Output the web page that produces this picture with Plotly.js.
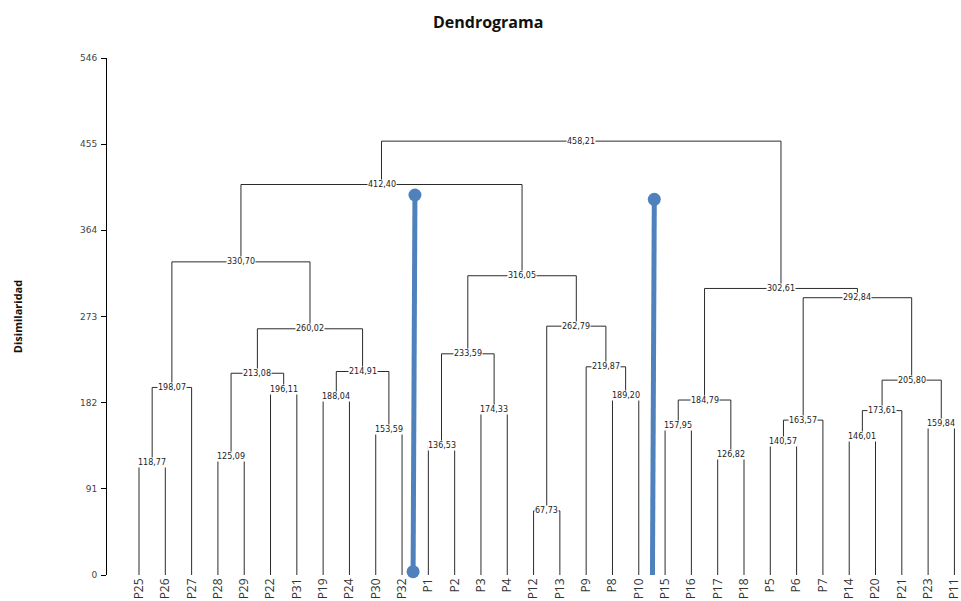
<!DOCTYPE html>
<html>
<head>
<meta charset="utf-8">
<script src="https://cdn.plot.ly/plotly-3.0.1.min.js"></script>
<style>html,body{margin:0;padding:0;background:#fff;}#chart{width:961px;height:601px;}</style>
</head>
<body>
<div id="chart"></div>
<script>
// Leaf order along the x axis
const leaves = ['P25','P26','P27','P28','P29','P22','P31','P19','P24','P30','P32','P1','P2','P3','P4','P12','P13','P9','P8','P10','P15','P16','P17','P18','P5','P6','P7','P14','P20','P21','P23','P11'];

// Merges: node name, left child, right child, dissimilarity
const nodeNames = ['A','B','C','D','E','F','G','H','I','J','K','L','M','N','O','Q1','Q','R','S','T','U','V','W','X','Y','Z','AA','AB','AC','AD','ROOT'];
const childLeft = ['P25','A','P28','P22','C','P19','P30','F','E','B','P1','P3','K','P12','P8','P9','N','M','J','P15','P17','T','P5','W','P14','Y','P23','Z','X','V','S'];
const childRight = ['P26','P27','P29','P31','D','P24','P32','G','H','I','P2','P4','L','P13','P10','O','Q1','Q','R','P16','P18','U','P6','P7','P20','P21','P11','AA','AB','AC','AD'];
const heights = [118.77,198.07,125.09,196.11,213.08,188.04,153.59,214.91,260.02,330.70,136.53,174.33,233.59,67.73,189.20,219.87,262.79,316.05,412.40,157.95,126.82,184.79,140.57,163.57,146.01,173.61,159.84,205.80,292.84,302.61,458.21];

// Highlight lines (blue)
const blue1X = [10.49, 10.42];
const blue1Y = [401.3, 3.5];
const blue2X = [19.59, 19.52];
const blue2Y = [396.7, -1.0];

const yTicks = [0, 91, 182, 273, 364, 455, 546];

// Compute positions through the tree
const pos = {}, hgt = {};
leaves.forEach((l, i) => { pos[l] = i; hgt[l] = 0; });
const lx = [], ly = [];
const ann = [];
nodeNames.forEach((n, i) => {
  const a = childLeft[i], b = childRight[i], h = heights[i];
  const xa = pos[a], xb = pos[b];
  lx.push(xa, xa, xb, xb, null);
  ly.push(hgt[a], h, h, hgt[b], null);
  pos[n] = (xa + xb) / 2; hgt[n] = h;
  ann.push({x: pos[n], y: h, xref: 'x', yref: 'y', text: h.toFixed(2).replace('.', ','),
    showarrow: false, bgcolor: '#ffffff', borderpad: 0, font: {family: 'DejaVu Sans', size: 8, color: '#222'}});
});

const traces = [
  {x: lx, y: ly, mode: 'lines', type: 'scatter', line: {color: '#2b2b2b', width: 1}, hoverinfo: 'skip', showlegend: false},
  {x: blue1X, y: blue1Y, mode: 'lines+markers', type: 'scatter', cliponaxis: false,
   line: {color: '#4f81bd', width: 5}, marker: {color: '#4f81bd', size: 13}, showlegend: false},
  {x: blue2X, y: blue2Y, mode: 'lines+markers', type: 'scatter', cliponaxis: false,
   line: {color: '#4f81bd', width: 5}, marker: {color: '#4f81bd', size: 13}, showlegend: false}
];

const layout = {
  width: 961, height: 601,
  margin: {l: 107, r: 0, t: 58, b: 26},
  paper_bgcolor: '#fff', plot_bgcolor: '#fff',
  title: {text: '<b>Dendrograma</b>', x: 0.508, xanchor: 'center', y: 0.963, yanchor: 'middle',
    font: {family: 'Open Sans', size: 16, color: '#111'}},
  xaxis: {range: [-1.217, 31.25], tickmode: 'array', tickvals: leaves.map((l, i) => i), ticktext: leaves,
    tickangle: -90, showgrid: false, zeroline: false, showline: false, ticks: '',
    ticklabeloverflow: 'allow',
    tickfont: {family: 'Open Sans', size: 12, color: '#333'}, automargin: false},
  yaxis: {range: [0, 546], tickmode: 'array', tickvals: yTicks, ticktext: yTicks.map(String),
    showgrid: false, zeroline: false, showline: true, linecolor: '#000', linewidth: 1,
    ticks: 'outside', ticklen: 5, tickcolor: '#000', ticklabelstandoff: 2,
    tickfont: {family: 'DejaVu Sans', size: 9, color: '#444'}, automargin: false,
    title: {text: '<b>Disimilaridad</b>', standoff: 55, font: {family: 'Open Sans', size: 11, color: '#111'}}},
  annotations: ann
};

Plotly.newPlot('chart', traces, layout, {displayModeBar: false, staticPlot: true});
</script>
</body>
</html>
